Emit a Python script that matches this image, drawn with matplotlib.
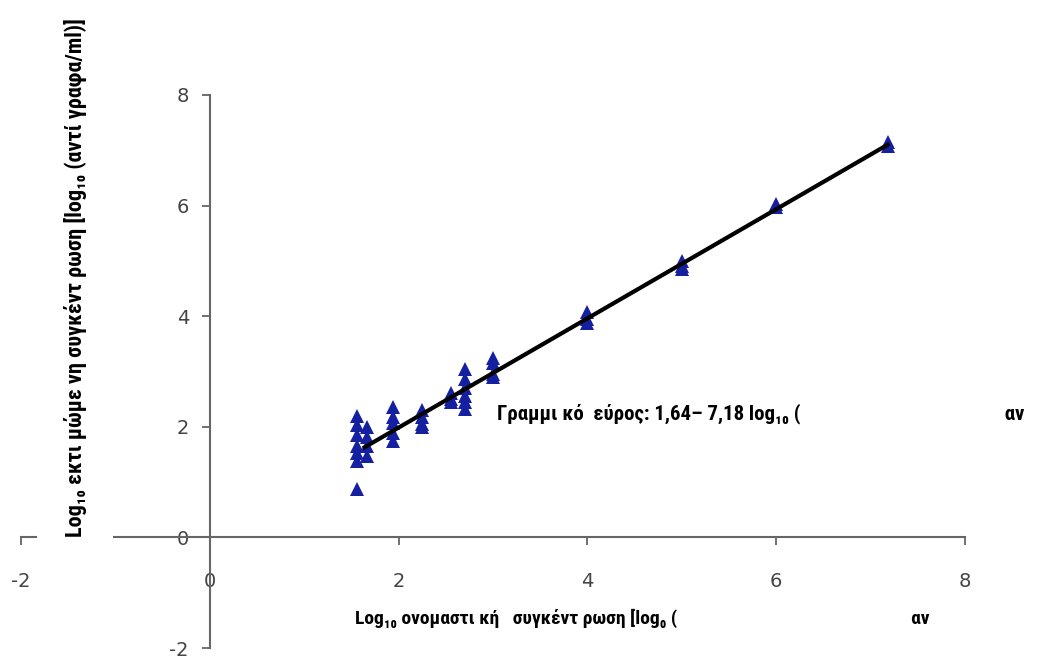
import matplotlib
matplotlib.use("Agg")
import matplotlib.pyplot as plt

# nominal log10 concentration (x) vs measured log10 concentration (y)
x_vals = [1.56, 1.56, 1.56, 1.56, 1.56, 1.56, 1.56,
          1.66, 1.66, 1.66, 1.66,
          1.94, 1.94, 1.94, 1.94, 1.94,
          2.25, 2.25, 2.25, 2.25,
          2.56, 2.56, 2.56,
          2.70, 2.70, 2.70, 2.70, 2.70, 2.70,
          3.00, 3.00, 3.00, 3.00,
          4.00, 4.00, 4.00,
          5.00, 5.00, 5.00,
          6.00, 6.00,
          7.18, 7.18]
y_vals = [2.20, 2.03, 1.85, 1.66, 1.52, 1.39, 0.88,
          1.99, 1.81, 1.66, 1.48,
          2.35, 2.17, 2.06, 1.88, 1.75,
          2.30, 2.18, 2.05, 2.00,
          2.62, 2.50, 2.45,
          3.05, 2.87, 2.70, 2.55, 2.45, 2.33,
          3.25, 3.15, 2.95, 2.90,
          4.07, 3.95, 3.87,
          5.00, 4.90, 4.85,
          6.02, 5.98,
          7.15, 7.08]
fit_x = [1.64, 7.18]
fit_y = [1.63, 7.10]

xticks = [-2, 0, 2, 4, 6, 8]
yticks = [-2, 0, 2, 4, 6, 8]

label_font = ['Roboto Condensed', 'Liberation Sans', 'DejaVu Sans']

fig = plt.figure(figsize=(10.42, 6.61), dpi=100)
ax = fig.add_axes([21/1042, 13/661, 944/1042, 553/661])
ax.set_xlim(-2, 8)
ax.set_ylim(-2, 8)

ax.plot(x_vals, y_vals, linestyle='none', marker='^', markersize=10.5,
        color='#1420a0', markeredgewidth=0, zorder=3)
ax.plot(fit_x, fit_y, color='black', linewidth=3, zorder=4)

for s in ['top', 'right']:
    ax.spines[s].set_visible(False)
ax.spines['left'].set_position(('data', 0))
ax.spines['bottom'].set_position(('data', 0))
for s in ['left', 'bottom']:
    ax.spines[s].set_color('#666666')
    ax.spines[s].set_linewidth(1.5)

ax.set_xticks(xticks)
ax.set_yticks(yticks)
ax.set_xticklabels([str(t) for t in xticks])
ax.set_yticklabels([str(t) for t in yticks])
ax.tick_params(axis='x', direction='out', length=6, width=1.3, color='#666666',
               labelsize=14, labelcolor='#444444', pad=19)
ax.tick_params(axis='y', direction='out', length=6, width=1.3, color='#666666',
               labelsize=14, labelcolor='#444444', pad=9)

ax.text(3.04, 2.24, 'Γραμμι κό  εύρος: 1,64– 7,18 log₁₀ (' + ' ' * 43 + 'αν',
        family=label_font, fontweight='bold', fontsize=15, va='center', ha='left',
        clip_on=False, zorder=5)

fig.text(355/1042, 1 - 618/661,
         'Log₁₀ ονομαστι κή   συγκέντ ρωση [log₀ (' + ' ' * 52 + 'αν',
         family=label_font, fontweight='bold', fontsize=14, va='center', ha='left')

fig.text(75/1042, 1 - 537/661,
         'Log₁₀ εκτι μώμε νη συγκέντ ρωση [log₁₀ (αντί γραφα/ml)]',
         family=label_font, fontweight='bold', fontsize=16, rotation=90,
         ha='center', va='bottom',
         bbox=dict(boxstyle='square,pad=1.2', facecolor='white', edgecolor='none'))

fig.savefig('out.png', dpi=100)
